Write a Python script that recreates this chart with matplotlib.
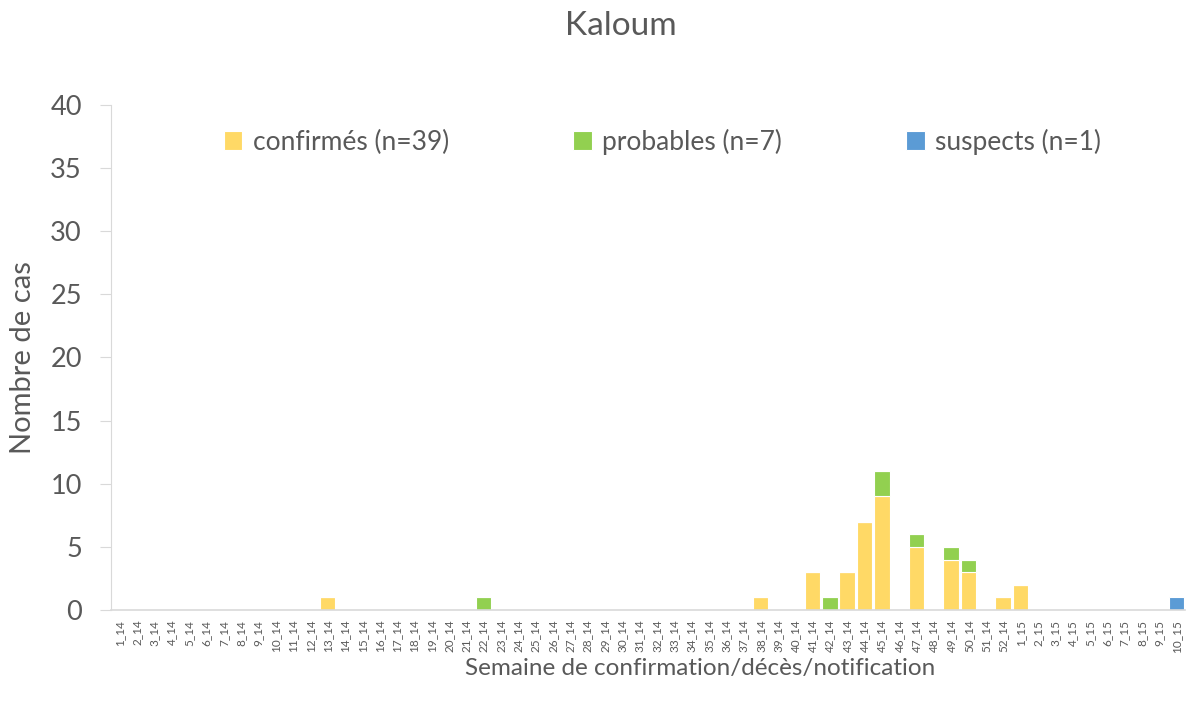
import matplotlib
matplotlib.use("Agg")
import matplotlib.pyplot as plt
import numpy as np

weeks = [f"{i}_14" for i in range(1, 53)] + [f"{i}_15" for i in range(1, 11)]

confirmes_weeks = ["13_14", "38_14", "41_14", "43_14", "44_14", "45_14", "47_14", "49_14", "50_14", "52_14", "1_15"]
confirmes_vals = [1, 1, 3, 3, 7, 9, 5, 4, 3, 1, 2]
probables_weeks = ["22_14", "42_14", "45_14", "47_14", "49_14", "50_14"]
probables_vals = [1, 1, 2, 1, 1, 1]
suspects_weeks = ["10_15"]
suspects_vals = [1]

series_labels = ["confirmés (n=39)", "probables (n=7)", "suspects (n=1)"]
colors = ["#FFD966", "#92D050", "#5B9BD5"]

def to_full(wk, vals):
    arr = np.zeros(len(weeks))
    for w, v in zip(wk, vals):
        arr[weeks.index(w)] = v
    return arr

conf = to_full(confirmes_weeks, confirmes_vals)
prob = to_full(probables_weeks, probables_vals)
susp = to_full(suspects_weeks, suspects_vals)

plt.rcParams['font.family'] = ['Lato', 'DejaVu Sans']
txt = "#595959"
grid_c = "#D9D9D9"

fig = plt.figure(figsize=(11.87, 7.10), dpi=100)
ax = fig.add_axes([111/1187, 100/710, (1185-111)/1187, 505/710])

x = np.arange(len(weeks))
w = 0.9
ax.bar(x, conf, w, color=colors[0], edgecolor="white", linewidth=0.8, label=series_labels[0])
ax.bar(x, prob, w, bottom=conf, color=colors[1], edgecolor="white", linewidth=0.8, label=series_labels[1])
ax.bar(x, susp, w, bottom=conf + prob, color=colors[2], edgecolor="white", linewidth=0.8, label=series_labels[2])

ax.set_xlim(-0.5, len(weeks) - 0.5)
ax.set_ylim(0, 40)
ax.set_yticks(range(0, 41, 5))
ax.set_xticks(x)
ax.set_xticklabels(weeks, rotation=90, fontsize=8.5, color=txt)
ax.tick_params(axis='x', length=0, pad=7)
ax.tick_params(axis='y', length=8, color=grid_c, labelsize=19.5, labelcolor=txt, pad=13)

for s in ["top", "right"]:
    ax.spines[s].set_visible(False)
ax.spines["left"].set_color(grid_c)
ax.spines["bottom"].set_color(grid_c)
ax.spines["bottom"].set_linewidth(1.2)

leg = ax.legend(ncol=3, loc="upper left", bbox_to_anchor=(0.083, 1.0), frameon=False,
                fontsize=19, handlelength=0.7, handleheight=0.7, handletextpad=0.4,
                columnspacing=4.7, labelcolor=txt)

fig.text(0.523, 1 - 26/710, "Kaloum", ha="center", va="center", fontsize=24, color=txt)
fig.text(23/1187, 1 - 358/710, "Nombre de cas", rotation=90, ha="center", va="center", fontsize=21, color=txt)
fig.text(700/1187, 1 - 668/710, "Semaine de confirmation/décès/notification", ha="center", va="center", fontsize=17.5, color=txt)

fig.savefig("out.png", dpi=100)
